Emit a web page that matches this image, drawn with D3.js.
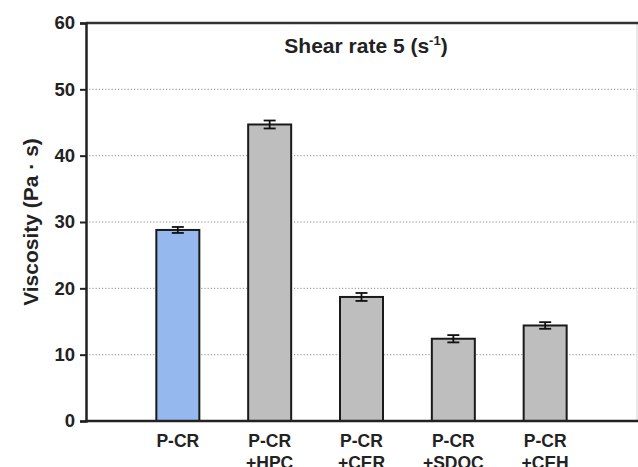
<!DOCTYPE html>
<html>
<head>
<meta charset="utf-8">
<script src="https://cdn.jsdelivr.net/npm/d3@7"></script>
<style>
  html, body { margin: 0; padding: 0; background: #fff; }
  svg { display: block; font-family: Arial, "Liberation Sans", sans-serif; }
</style>
</head>
<body>
<svg id="chart" width="638" height="467"></svg>
<script>
// Sample names (two lines each) and viscosity at shear rate 5 s^-1
const labelsTop = ["P-CR", "P-CR", "P-CR", "P-CR", "P-CR"];
const labelsBottom = ["", "+HPC", "+CER", "+SDOC", "+CEH"];
const viscosity = [28.8, 44.7, 18.7, 12.4, 14.4];
const errors = [0.45, 0.6, 0.6, 0.55, 0.5];
const barColors = ["#95b9ef", "#bebebe", "#bebebe", "#bebebe", "#bebebe"];
const yTicks = [0, 10, 20, 30, 40, 50, 60];

const svg = d3.select("#chart");
const plotL = 86, plotR = 637, plotT = 23, plotB = 421;

const x = d3.scaleLinear().domain([0, 6]).range([plotL, plotR]);
const y = d3.scaleLinear().domain([0, 60]).range([plotB, plotT]);
const barW = 43;

// dotted horizontal grid
svg.append("g").selectAll("line")
  .data(yTicks.filter(d => d > 0 && d < 60))
  .join("line")
  .attr("x1", plotL).attr("x2", plotR)
  .attr("y1", d => y(d)).attr("y2", d => y(d))
  .attr("stroke", "#8a8a8a").attr("stroke-width", 1)
  .attr("stroke-dasharray", "1.2,2");

// frame: light right edge, heavy top
svg.append("line").attr("x1", plotR).attr("x2", plotR).attr("y1", plotT).attr("y2", plotB)
  .attr("stroke", "#d4d4d4").attr("stroke-width", 1);
svg.append("line").attr("x1", plotL).attr("x2", plotR + 1).attr("y1", plotT).attr("y2", plotT)
  .attr("stroke", "#333").attr("stroke-width", 2.5);

// bars
const idx = d3.range(viscosity.length);
svg.append("g").selectAll("rect")
  .data(idx)
  .join("rect")
  .attr("x", i => x(i + 1) - barW / 2)
  .attr("width", barW)
  .attr("y", i => y(viscosity[i]))
  .attr("height", i => y(0) - y(viscosity[i]))
  .attr("fill", i => barColors[i])
  .attr("stroke", "#1a1a1a").attr("stroke-width", 2);

// error bars
const eb = svg.append("g").attr("stroke", "#111").attr("stroke-width", 1.8);
idx.forEach(i => {
  const cx = x(i + 1);
  const hi = y(viscosity[i] + errors[i]), lo = y(viscosity[i] - errors[i]);
  eb.append("line").attr("x1", cx).attr("x2", cx).attr("y1", hi).attr("y2", lo);
  eb.append("line").attr("x1", cx - 6).attr("x2", cx + 6).attr("y1", hi).attr("y2", hi);
  eb.append("line").attr("x1", cx - 6).attr("x2", cx + 6).attr("y1", lo).attr("y2", lo);
});

// y axis
const yAxis = d3.axisLeft(y).tickValues(yTicks).tickSize(6).tickPadding(5);
const gy = svg.append("g").attr("transform", `translate(${plotL},0)`).call(yAxis);
gy.select(".domain").attr("stroke", "#222").attr("stroke-width", 2.5);
gy.selectAll(".tick line").attr("stroke", "#222").attr("stroke-width", 2);
gy.selectAll(".tick text").attr("font-size", 18.5).attr("font-weight", "bold")
  .attr("fill", "#222").attr("font-family", "Arial, 'Liberation Sans', sans-serif");

// x baseline
svg.append("line").attr("x1", plotL - 1).attr("x2", plotR + 1)
  .attr("y1", plotB).attr("y2", plotB)
  .attr("stroke", "#222").attr("stroke-width", 2.5);

// category labels (second line runs off the lower edge)
const xl = svg.append("g").attr("font-size", 17.5).attr("font-weight", "bold")
  .attr("fill", "#222").attr("text-anchor", "middle");
idx.forEach(i => {
  xl.append("text").attr("x", x(i + 1)).attr("y", 447).text(labelsTop[i]);
  if (labelsBottom[i]) xl.append("text").attr("x", x(i + 1)).attr("y", 469).text(labelsBottom[i]);
});

// y axis title
svg.append("text")
  .attr("transform", "translate(38,222) rotate(-90)")
  .attr("text-anchor", "middle")
  .attr("font-size", 21).attr("font-weight", "bold").attr("fill", "#222")
  .text("Viscosity (Pa · s)");

// panel title
const t = svg.append("text").attr("x", 366).attr("y", 53)
  .attr("text-anchor", "middle").attr("font-size", 21).attr("font-weight", "bold").attr("fill", "#222");
t.append("tspan").text("Shear rate 5 (s");
t.append("tspan").attr("font-size", 13).attr("dy", -8).text("-1");
t.append("tspan").attr("dy", 8).text(")");
</script>
</body>
</html>
